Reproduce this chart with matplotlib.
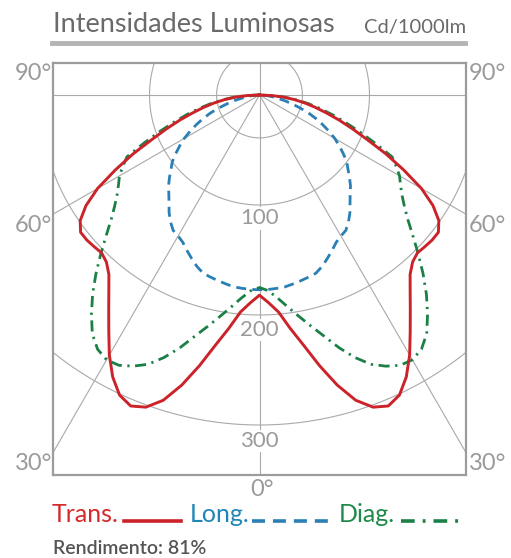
import numpy as np
import matplotlib
matplotlib.use("Agg")
import matplotlib.pyplot as plt
from matplotlib.lines import Line2D

# ---------------- data (cd/1000lm), angle from nadir (deg) ----------------
angles = [0, 2.5, 5, 7.5, 10, 12.5, 15, 17.5, 20, 22.5, 25, 27.5, 30, 32.5, 35,
          37.5, 40, 42.5, 45, 47.5, 50, 52.5, 55, 57.5, 60, 62.5, 65, 67.5, 70,
          72.5, 75, 77.5, 80, 82.5, 85, 87.5, 90]
trans = [182, 189, 198, 214, 231, 252, 273, 291, 302, 306, 301, 289, 273, 255, 239,
         225, 213, 206, 203, 204, 205, 205, 199, 187, 170, 148, 127, 106, 90,
         76, 63, 52, 42, 32, 22, 11, 0]
long_ = [177, 177, 176.5, 176, 174.5, 173, 171.5, 170, 166, 161, 156, 151, 148, 146, 141,
         135, 128, 122, 117, 111, 105, 100, 93, 86, 79, 71, 63, 55, 47,
         38, 30, 23, 16, 11, 7, 3, 0]
diag = [175, 178, 185, 194, 204, 215, 227, 241, 254, 265, 272, 277, 278, 274, 265,
        251, 236, 220, 204, 189, 176, 166, 158, 152, 147, 140, 133, 113, 96,
        81, 68, 56, 45, 34, 23, 12, 0]

circle_values = [39, 100, 200, 300]
circle_labels = ["100", "200", "300"]
radial_angles = [30, 60]
angle_labels = ["90°", "60°", "30°", "0°"]
title = "Intensidades Luminosas"
unit = "Cd/1000lm"
legend_names = ["Trans.", "Long.", "Diag."]
rendimiento = "Rendimento: 81%"

# ---------------- figure ----------------
W, H = 511, 558
fig = plt.figure(figsize=(W / 100, H / 100), dpi=100)
plt.rcParams['font.family'] = ['Lato', 'DejaVu Sans']

def fx(px):
    return px / W

def fy(py):
    return 1 - py / H

L, R, T, B = 53, 466, 63, 475
ax = fig.add_axes([fx(L), fy(B), (R - L) / W, (B - T) / H])
cx_px, cy_px, scale = 259.5, 95, 1.1
ax.set_xlim((L - cx_px) / scale, (R - cx_px) / scale)
ax.set_ylim(-(B - cy_px) / scale, (cy_px - T) / scale)
ax.set_xticks([])
ax.set_yticks([])
for s in ax.spines.values():
    s.set_color("#9c9c9c")
    s.set_linewidth(1.6)

gcol = "#a9a9a9"
glw = 0.8
# circles
t = np.linspace(0, 2 * np.pi, 400)
for cv in circle_values:
    ax.plot(cv * np.cos(t), cv * np.sin(t), color=gcol, lw=glw, zorder=1)
# axes lines
ax.axhline(0, color=gcol, lw=glw, zorder=1)
ax.axvline(0, color=gcol, lw=glw, zorder=1)
for a in radial_angles:
    for sgn in (-1, 1):
        r = 1000
        ax.plot([0, sgn * r * np.sin(np.radians(a))], [0, -r * np.cos(np.radians(a))],
                color=gcol, lw=glw, zorder=1)

# circle labels
lab_py = [218.5, 330, 441]
for lab, py in zip(circle_labels, lab_py):
    ax.text(0, -(py - cy_px) / scale, lab, ha="center", va="center", fontsize=16,
            color="#9a9a9a", zorder=2,
            bbox=dict(facecolor="white", edgecolor="none", pad=1.0))

# curves
def full_curve(vals):
    a = np.radians(np.array(angles))
    v = np.array(vals, dtype=float)
    a_full = np.concatenate([-a[::-1], a[1:]])
    v_full = np.concatenate([v[::-1], v[1:]])
    return v_full * np.sin(a_full), -v_full * np.cos(a_full)

red = "#cc2229"
blue = "#2a7fb4"
green = "#1b8046"
x, y = full_curve(long_)
ax.plot(x, y, color=blue, lw=2.0, ls=(0, (3.6, 2.2)), zorder=3)
x, y = full_curve(diag)
ax.plot(x, y, color=green, lw=2.0, ls=(0, (4.0, 2.0, 0.8, 2.0)), zorder=3)
x, y = full_curve(trans)
ax.plot(x, y, color=red, lw=2.1, zorder=4, solid_joinstyle="round")

# ---------------- texts ----------------
fig.text(fx(53), fy(25), title, fontsize=19.5, color="#6a6a6a", ha="left", va="center")
fig.text(fx(466), fy(27), unit, fontsize=14.5, color="#6a6a6a", ha="right", va="center")
fig.add_artist(Line2D([fx(52), fx(465)], [fy(42.5), fy(42.5)], color="#b4b4b4", lw=3.5))

acol = "#9a9a9a"
afs = 17
for lab, py in zip(angle_labels[:3], [74, 225, 463]):
    fig.text(fx(52), fy(py), lab, fontsize=afs, color=acol, ha="right", va="center")
    fig.text(fx(469), fy(py), lab, fontsize=afs, color=acol, ha="left", va="center")
fig.text(fx(262), fy(490), angle_labels[3], fontsize=afs, color=acol, ha="center", va="center")

# legend
lfs = 18
ly = 515
fig.text(fx(52), fy(ly), legend_names[0], fontsize=lfs, color="#d42a2a", ha="left", va="center")
fig.add_artist(Line2D([fx(124), fx(181)], [fy(521), fy(521)], color=red, lw=2.6))
fig.text(fx(190), fy(ly), legend_names[1], fontsize=lfs, color="#1f86b8", ha="left", va="center")
fig.add_artist(Line2D([fx(252), fx(333)], [fy(521), fy(521)], color=blue, lw=2.6,
                      ls=(0, (3.6, 2.2))))
fig.text(fx(339), fy(ly), legend_names[2], fontsize=lfs, color="#1f8a4a", ha="left", va="center")
fig.add_artist(Line2D([fx(401), fx(465)], [fy(521), fy(521)], color=green, lw=2.6,
                      ls=(0, (3.8, 2.2, 0.8, 2.2))))

fig.text(fx(53), fy(548), rendimiento, fontsize=14, color="#555555", ha="left",
         va="center", fontweight="semibold")

fig.savefig("out.png", dpi=100)
